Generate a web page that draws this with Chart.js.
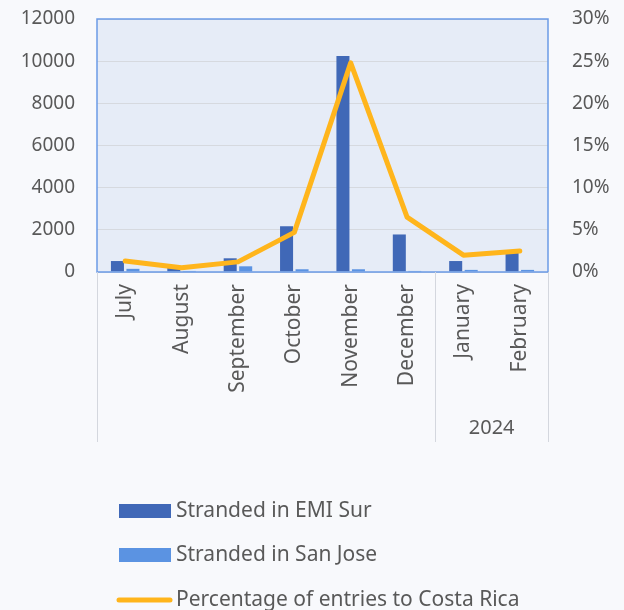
<!DOCTYPE html>
<html>
<head>
<meta charset="utf-8">
<script src="https://cdn.jsdelivr.net/npm/chart.js@4/dist/chart.umd.min.js"></script>
<style>
  html, body { margin: 0; padding: 0; background: #f8f9fc; }
  canvas { display: block; }
</style>
</head>
<body>
<canvas id="chart" width="624" height="610"></canvas>
<script>
// values
const months = ["July", "August", "September", "October", "November", "December", "January", "February"];
const emiSur = [520, 200, 650, 2170, 10250, 1780, 520, 900];
const sanJose = [150, 50, 270, 130, 130, 50, 100, 100];
const pctCostaRica = [1.3, 0.5, 1.2, 4.7, 24.8, 6.5, 2.0, 2.5];
const leftTicks = [0, 2000, 4000, 6000, 8000, 10000, 12000];
const rightTicks = [0, 5, 10, 15, 20, 25, 30];
const yearGroups = [
  { label: "", first: 0, last: 5 },
  { label: "2024", first: 6, last: 7 }
];

const FONT = "'Noto Sans', sans-serif";
const TEXT = "#595959";

// plot background, frame, year row and stacked legend
const decor = {
  id: "decor",
  beforeDraw(chart) {
    const { ctx, chartArea: a } = chart;
    ctx.save();
    ctx.fillStyle = "#e6ecf7";
    ctx.fillRect(a.left, a.top, a.right - a.left, a.bottom - a.top);
    ctx.restore();
  },
  afterDraw(chart) {
    const { ctx, chartArea: a } = chart;
    const x = chart.scales.x;
    ctx.save();
    // frame
    ctx.strokeStyle = "#6b9be6";
    ctx.lineWidth = 1.5;
    ctx.strokeRect(a.left, a.top, a.right - a.left, a.bottom - a.top);

    // category group separators + year labels
    const half = (x.getPixelForValue(1) - x.getPixelForValue(0)) / 2;
    ctx.strokeStyle = "#d4d7de";
    ctx.lineWidth = 1;
    ctx.fillStyle = TEXT;
    ctx.font = "20px " + FONT;
    ctx.textAlign = "center";
    ctx.textBaseline = "middle";
    yearGroups.forEach(g => {
      const l = x.getPixelForValue(g.first) - half;
      const r = x.getPixelForValue(g.last) + half;
      [l, r].forEach(px => {
        ctx.beginPath();
        ctx.moveTo(Math.round(px) + 0.5, a.bottom);
        ctx.lineTo(Math.round(px) + 0.5, 442);
        ctx.stroke();
      });
      if (g.label) ctx.fillText(g.label, (l + r) / 2, 428);
    });

    // legend, one entry per row
    ctx.textAlign = "left";
    ctx.font = "21px " + FONT;
    const rowsY = [511, 555, 600];
    chart.data.datasets.forEach((ds, i) => {
      const y = rowsY[i];
      if (ds.type === "line") {
        ctx.strokeStyle = ds.borderColor;
        ctx.lineWidth = 5;
        ctx.lineCap = "round";
        ctx.beginPath();
        ctx.moveTo(119, y);
        ctx.lineTo(170, y);
        ctx.stroke();
      } else {
        ctx.fillStyle = ds.backgroundColor;
        ctx.fillRect(119, y - 7, 52, 14);
      }
      ctx.fillStyle = TEXT;
      ctx.fillText(ds.label, 176, y);
    });
    ctx.restore();
  }
};

// fixed width, and no extra top/bottom padding from tick labels
const fitVertical = w => s => { s.width = w; s.paddingTop = 0; s.paddingBottom = 0; };

new Chart(document.getElementById("chart"), {
  data: {
    labels: months,
    datasets: [
      {
        type: "bar",
        label: "Stranded in EMI Sur",
        data: emiSur,
        backgroundColor: "#4068b7",
        yAxisID: "y",
        order: 2
      },
      {
        type: "bar",
        label: "Stranded in San Jose",
        data: sanJose,
        backgroundColor: "#5b93e2",
        yAxisID: "y",
        order: 2
      },
      {
        type: "line",
        label: "Percentage of entries to Costa Rica",
        data: pctCostaRica,
        borderColor: "#ffb51c",
        borderWidth: 5,
        borderCapStyle: "round",
        borderJoinStyle: "round",
        pointRadius: 0,
        tension: 0,
        yAxisID: "y1",
        order: 1
      }
    ]
  },
  options: {
    responsive: false,
    animation: false,
    categoryPercentage: 0.55,
    barPercentage: 0.84,
    layout: { padding: { top: 19, bottom: 170, left: 0, right: 0 } },
    plugins: {
      legend: { display: false },
      tooltip: { enabled: false }
    },
    scales: {
      x: {
        grid: { display: false, drawTicks: false },
        border: { display: false },
        ticks: {
          color: TEXT,
          font: { family: FONT, size: 21 },
          minRotation: 90,
          maxRotation: 90,
          padding: 12,
          autoSkip: false
        },
        afterFit: s => { s.height = 168; }
      },
      y: {
        position: "left",
        min: 0,
        max: 12000,
        afterBuildTicks: s => { s.ticks = leftTicks.map(v => ({ value: v })); },
        grid: { color: "#d6d9df", drawTicks: false },
        border: { display: false },
        ticks: {
          color: TEXT,
          font: { family: FONT, size: 19 },
          padding: 22,
          callback: v => String(v)
        },
        afterFit: fitVertical(97)
      },
      y1: {
        position: "right",
        min: 0,
        max: 30,
        afterBuildTicks: s => { s.ticks = rightTicks.map(v => ({ value: v })); },
        grid: { display: false, drawTicks: false },
        border: { display: false },
        ticks: {
          color: TEXT,
          font: { family: FONT, size: 19 },
          padding: 24,
          callback: v => v + "%"
        },
        afterFit: fitVertical(76)
      }
    }
  },
  plugins: [decor]
});
</script>
</body>
</html>
